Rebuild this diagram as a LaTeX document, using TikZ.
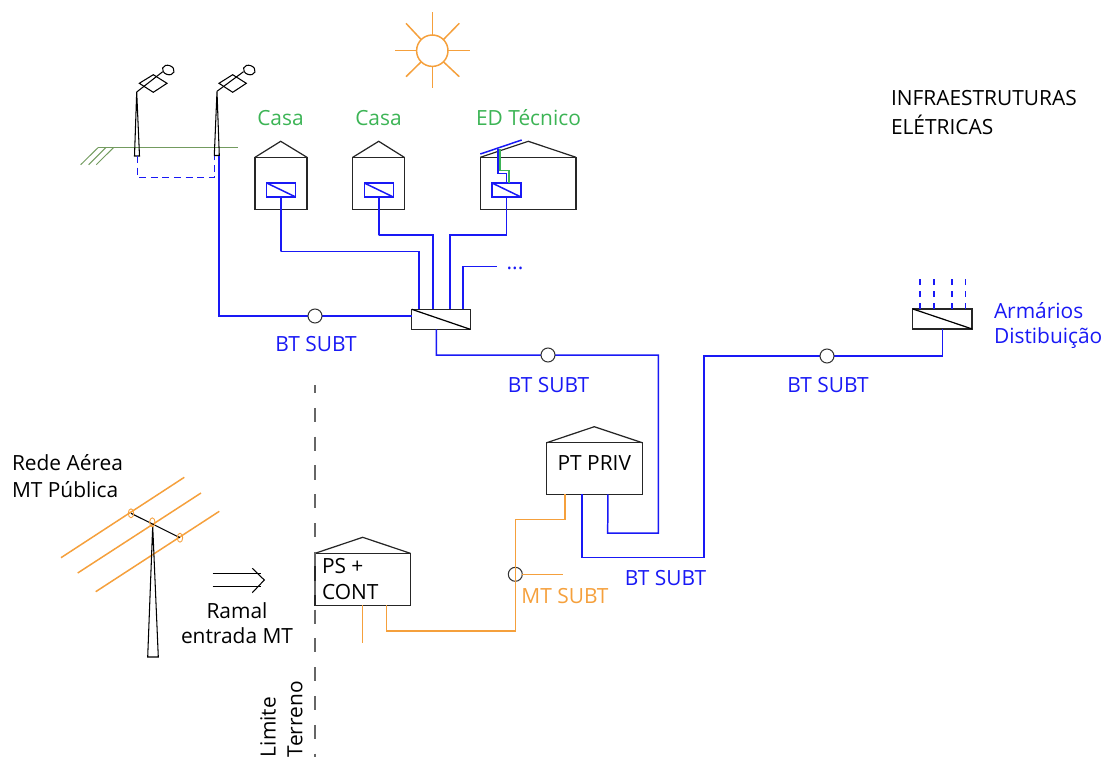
\documentclass[tikz,border=0pt]{standalone}
\usepackage{fontspec}
\setmainfont{Open Sans}
\usetikzlibrary{calc}
\definecolor{btblue}{RGB}{25,25,245}
\definecolor{mtorange}{RGB}{245,160,60}
\definecolor{edgreen}{RGB}{60,180,85}
\definecolor{soilgreen}{RGB}{115,155,95}

\begin{document}
\begin{tikzpicture}[x=0.02cm, y=-0.02cm, line join=miter,
    font=\fontsize{11.9pt}{14pt}\selectfont,
    bt/.style={btblue, line width=0.85pt},
    mt/.style={mtorange, line width=0.85pt},
    house/.style={draw=black!85, line width=0.7pt, inner sep=0pt, outer sep=0pt},
    quadro/.style={draw=black!85, line width=0.8pt, fill=white, inner sep=0pt, outer sep=0pt, minimum width=1.17cm, minimum height=0.4cm},
    contador/.style={draw=btblue, line width=0.8pt, inner sep=0pt, outer sep=0pt, minimum width=0.58cm, minimum height=0.28cm},
    marker/.style={circle, draw=black!80, fill=white, line width=0.6pt, inner sep=0pt, outer sep=0pt, minimum size=0.28cm},
    txt/.style={inner sep=0pt, outer sep=0pt},
    lbl/.style={txt, align=left, anchor=west}]

    \useasboundingbox (0,0) rectangle (1106,758);

    % Free corners of the buried cable runs
    \coordinate (lampFoot) at (219,156);
    \coordinate (kinkA) at (281,251.7);
    \coordinate (kinkB) at (378.7,235);
    \coordinate (kinkC) at (506.3,235);
    \coordinate (spare) at (497.3,266.7);
    \coordinate (runPT) at (658.3,355);
    \coordinate (runArm) at (704,356);
    \coordinate (stubPS) at (362.7,642.7);

    % Sun
    \draw[mt] (432.3,50.7) circle (15.7);
    \draw[mt] (432.3,35) -- (432.3,12.3);
    \draw[mt] (432.3,66.4) -- (432.3,88);
    \draw[mt] (416.6,50.7) -- (395,50.7);
    \draw[mt] (448,50.7) -- (470,50.7);
    \draw[mt] (421.3,39.7) -- (406,23.3);
    \draw[mt] (443.3,39.7) -- (459.3,23.3);
    \draw[mt] (421.3,61.7) -- (406,76.7);
    \draw[mt] (443.3,61.7) -- (459.3,76.7);

    % Ground line with hatching
    \draw[soilgreen, line width=0.55pt] (98.3,147.4) -- (237.7,147.4);
    \draw[soilgreen, line width=0.55pt] (98.3,147.4) -- (80.7,164.7);
    \draw[soilgreen, line width=0.55pt] (106,147.4) -- (88.7,164.7);
    \draw[soilgreen, line width=0.55pt] (113.7,147.4) -- (96.3,164.7);

    % Street lamps
    \draw[line width=0.6pt] (136.7,92) -- (134.5,156) -- (139.5,156) -- cycle;
    \draw[line width=0.6pt] (136.7,92) -- (162.7,71.7);
    \draw[line width=0.6pt] (139.3,83.3) -- (153.3,74.7) -- (167,83.3) -- (153.3,92.3) -- cycle;
    \draw[line width=0.6pt, rotate around={-20:(168.3,70)}] (168.3,70) ellipse (6 and 4.6);

    \draw[line width=0.6pt] (217,91.3) -- (214.3,155.5) -- (219.3,155.5) -- cycle;
    \draw[line width=0.6pt] (217,91.3) -- (243.5,71.7);
    \draw[line width=0.6pt] (219,83.3) -- (232.7,74.7) -- (246.3,83.3) -- (232.7,92.3) -- cycle;
    \draw[line width=0.6pt, rotate around={-20:(249.3,70)}] (249.3,70) ellipse (6 and 4.6);

    \draw[bt, dash pattern=on 4pt off 2.6pt] (137.3,156) -- (137.3,177.3) -- (214.7,177.3) -- (214.7,156);

    % Houses
    \node[house, minimum width=1.04cm, minimum height=1.04cm] (casaA) at (281,183.3) {};
    \draw[house] (casaA.north west) -- (280.7,141.3) -- (casaA.north east);
    \node[contador] (contA) at (281.2,190) {};
    \draw[bt] (contA.north west) -- (contA.south east);

    \node[house, minimum width=1.03cm, minimum height=1.04cm] (casaB) at (378.5,183.3) {};
    \draw[house] (casaB.north west) -- (378.7,141.3) -- (casaB.north east);
    \node[contador] (contB) at (378.8,190) {};
    \draw[bt] (contB.north west) -- (contB.south east);

    \node[house, minimum width=1.914cm, minimum height=1.04cm] (edTec) at (528.2,183.3) {};
    \draw[house] (edTec.north west) -- (528.3,141.3) -- (edTec.north east);
    \node[contador] (contC) at (506.5,190) {};
    \draw[bt] (contC.north west) -- (contC.south east);

    % Roof panel of the technical building
    \draw[bt] (480.3,154) -- (521.7,140);
    \draw[edgreen, line width=0.6pt] (500,149.3) -- (500,170.7) -- (509,170.7) -- (509,183);
    \draw[bt, line width=0.6pt] (498,149.3) -- (498,173.3) -- (506.3,173.3) -- (506.3,183);

    % Main board and cabinet
    \node[quadro] (quadroBT) at (441,319.3) {};
    \draw[line width=0.7pt] (quadroBT.north west) -- (quadroBT.south east);
    \node[quadro, minimum width=1.186cm] (armario) at (942.3,318.9) {};
    \draw[line width=0.7pt] (armario.north west) -- (armario.south east);

    % Substations
    \node[house, minimum width=1.912cm, minimum height=1.032cm] (ptPriv) at (594.5,468.5) {};
    \draw[house] (ptPriv.north west) -- (594.3,426.7) -- (ptPriv.north east);
    \node[txt] (lblPt) at (594.3,463) {PT PRIV};
    \node[house, minimum width=1.906cm, minimum height=1.04cm] (psCont) at (362.7,579.3) {};
    \draw[house] (psCont.north west) -- (362.7,537.3) -- (psCont.north east);
    \node[lbl] (psA) at (322,566) {PS +};
    \node[lbl] (psB) at (322,592) {CONT};

    % BT cables
    \draw[bt] (lampFoot) |- (quadroBT.west |- 0,316);
    \draw[bt] (contA.south) |- (kinkA) -| ($(quadroBT.north west)!0.12!(quadroBT.north east)$);
    \draw[bt] (contB.south) |- (kinkB) -| ($(quadroBT.north west)!0.36!(quadroBT.north east)$);
    \draw[bt] (contC.south) |- (kinkC) -| ($(quadroBT.north west)!0.65!(quadroBT.north east)$);
    \draw[bt] ($(quadroBT.north west)!0.88!(quadroBT.north east)$) |- (spare);
    \draw[bt] ($(quadroBT.south west)!0.42!(quadroBT.south east)$) |- (runPT) |- (607.7,533) -- ($(ptPriv.south west)!0.64!(ptPriv.south east)$);
    \draw[bt] ($(ptPriv.south west)!0.37!(ptPriv.south east)$) |- (704,557.7) -- (runArm) -| (armario.south);

    % Dashed feeders above the cabinet
    \draw[bt, dash pattern=on 3.4pt off 3.4pt] ($(armario.north west)!0.12!(armario.north east)$) -- ++(0,-32.7);
    \draw[bt, dash pattern=on 3.4pt off 3.4pt] ($(armario.north west)!0.36!(armario.north east)$) -- ++(0,-32.7);
    \draw[bt, dash pattern=on 3.4pt off 3.4pt] ($(armario.north west)!0.66!(armario.north east)$) -- ++(0,-32.7);
    \draw[bt, dash pattern=on 3.4pt off 3.4pt] ($(armario.north west)!0.89!(armario.north east)$) -- ++(0,-32.7);

    % MT cables
    \node[marker] (mtJoint) at (515.3,574.3) {};
    \draw[mt] ($(ptPriv.south west)!0.19!(ptPriv.south east)$) |- (515.3,519.3) -- (515.3,631) -| ($(psCont.south west)!0.75!(psCont.south east)$);
    \draw[mt] (mtJoint.east) -- (563.3,574.3);
    \draw[mt] (psCont.south) -- (stubPS);

    % Cable markers
    \node[marker] (markA) at (315,316) {};
    \node[marker] (markB) at (548,355) {};
    \node[marker] (markC) at (827,356) {};

    % Limit of the site
    \draw[black!60, line width=0.9pt, dash pattern=on 8pt off 8.4pt, dash phase=3.4pt] (315,385) -- (315,757);

    % Public overhead line
    \draw[mt] (61,557.7) -- (184.3,477.3);
    \draw[mt] (77.7,573) -- (201,493);
    \draw[mt] (95.7,591.7) -- (219.3,511.3);
    \draw[line width=0.6pt] (131,513.3) -- (180,537.7);
    \draw[line width=0.6pt] (152.7,526) -- (147.7,657) -- (158.3,657) -- cycle;
    \draw[mt, line width=0.5pt] (131,513.3) ellipse (2.7 and 4.5);
    \draw[mt, line width=0.5pt] (152.3,522.3) ellipse (2.7 and 4.5);
    \draw[mt, line width=0.5pt] (180,537.7) ellipse (2.7 and 4.5);

    % Entry arrow
    \draw[line width=0.6pt] (212.7,573.3) -- (261,573.3);
    \draw[line width=0.6pt] (212.7,586.7) -- (261,586.7);
    \draw[line width=0.6pt] (252.3,568.3) -- (264.3,580) -- (252.3,592.7);

    % Labels
    \node[txt, edgreen] (lblCasaA) at (280.5,118) {Casa};
    \node[txt, edgreen] (lblCasaB) at (378.5,118) {Casa};
    \node[txt, edgreen] (lblEd) at (528.5,118) {ED Técnico};
    \node[lbl] (lblInfra) at (891,98) {INFRAESTRUTURAS};
    \node[lbl] (lblElec) at (891,125) {ELÉTRICAS};
    \node[txt, btblue] (lblDots) at (515,268) {...};
    \node[txt, btblue] (lblBtA) at (316,344) {BT SUBT};
    \node[txt, btblue] (lblBtB) at (548.5,385) {BT SUBT};
    \node[txt, btblue] (lblBtC) at (828,385) {BT SUBT};
    \node[txt, btblue] (lblBtD) at (665.5,578) {BT SUBT};
    \node[txt, mtorange] (lblMt) at (565,596) {MT SUBT};
    \node[lbl, btblue] (lblArmA) at (994,311) {Armários};
    \node[lbl, btblue] (lblArmB) at (994,338) {Distibuição};
    \node[lbl] (lblRedeA) at (12,463) {Rede Aérea};
    \node[lbl] (lblRedeB) at (12,490) {MT Pública};
    \node[txt] (lblRamalA) at (237,611) {Ramal};
    \node[txt] (lblRamalB) at (237,636) {entrada MT};
    \node[txt, rotate=90, anchor=west] (lblLimA) at (268,757) {Limite};
    \node[txt, rotate=90, anchor=west] (lblLimB) at (295,757) {Terreno};

\end{tikzpicture}
\end{document}
